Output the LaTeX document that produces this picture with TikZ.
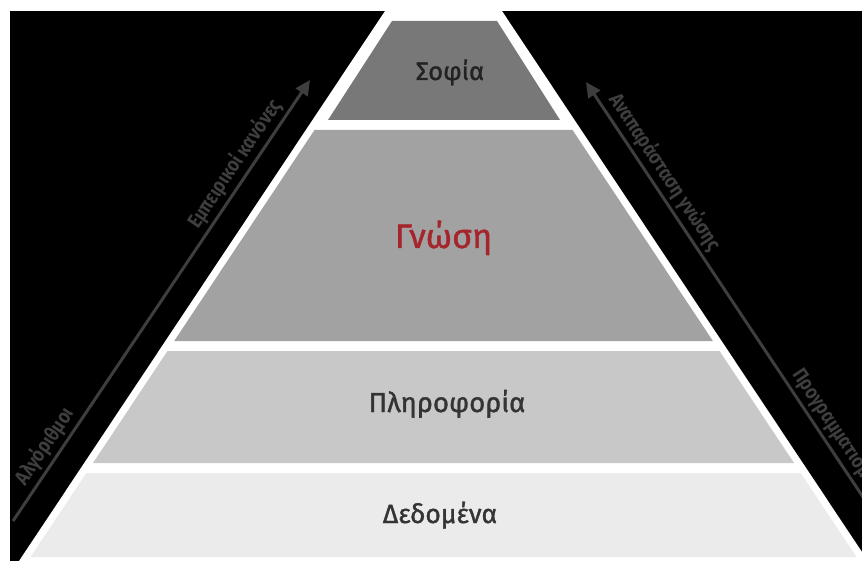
\documentclass[tikz,border=0pt]{standalone}
\usepackage{fontspec}
\setmainfont{Fira Sans}
\newfontfamily\layerfont[FakeBold=1.3]{Fira Sans}
\newfontfamily\condfont[FakeStretch=0.85]{Fira Sans}
\usetikzlibrary{arrows.meta}
\definecolor{sofiafill}{HTML}{787878}
\definecolor{gnosifill}{HTML}{A2A2A2}
\definecolor{plirofill}{HTML}{C8C8C8}
\definecolor{dedofill}{HTML}{EBEBEB}
\definecolor{darktext}{HTML}{222222}
\definecolor{redtext}{HTML}{A4262C}
\definecolor{arrowgray}{HTML}{3E3E3E}
\tikzset{
  layerlabel/.style={anchor=base, inner sep=0pt, text=darktext},
  sidearrow/.style={draw=arrowgray, line width=3pt, -{Triangle[length=15pt,width=14pt]}},
  sidelabel/.style={text=arrowgray, font=\condfont\bfseries\fontsize{20.5}{24}\selectfont, inner sep=3pt}
}
\begin{document}
\begin{tikzpicture}[x=1pt,y=-1pt]
\useasboundingbox (0,0) rectangle (862,561);
\clip (0,0) rectangle (862,561);
\fill[white] (0,0) rectangle (862,561);
\fill[black] (10,11) rectangle (862,561);
% outer white outline of the pyramid
\fill[white] (385,11) -- (502,11) -- (868,561) -- (19,561) -- cycle;
% layers
\fill[sofiafill] (392,21) -- (497,21) -- (560,120) -- (328,120) -- cycle;
\fill[gnosifill] (314.5,130) -- (572.5,130) -- (712.9,341) -- (174.2,341) -- cycle;
\fill[plirofill] (167.5,351) -- (719.5,351) -- (794,463) -- (93,463) -- cycle;
\fill[dedofill] (86.4,473) -- (800.6,473) -- (856.5,557) -- (30.5,557) -- cycle;
% layer labels
\node[layerlabel, font=\layerfont\fontsize{25.5}{30}\selectfont] (sofia) at (450,80) {Σοφία};
\node[layerlabel, text=redtext, font=\layerfont\fontsize{34}{40}\selectfont] (gnosi) at (443.5,248) {Γνώση};
\node[layerlabel, text=darktext!92, font=\layerfont\fontsize{27.5}{32}\selectfont] (pliro) at (447,412) {Πληροφορία};
\node[layerlabel, text=darktext!92, font=\layerfont\fontsize{26.5}{30}\selectfont] (dedo) at (440,523) {Δεδομένα};
% left arrow
\coordinate (la0) at (13,521);
\coordinate (la1) at (310,80);
\draw[sidearrow] (la0) -- node[sidelabel, pos=0.15, sloped, above] (alg) {Αλγόριθμοι}
  node[sidelabel, pos=0.79, sloped, above] (emp) {Εμπειρικοί κανόνες} (la1);
% right arrow
\coordinate (ra0) at (885,530);
\coordinate (ra1) at (586,82);
\draw[sidearrow] (ra0) -- node[sidelabel, pos=0.345, sloped, anchor=south west] (prog) {Προγραμματισμός}
  node[sidelabel, pos=0.78, sloped, above] (anap) {Αναπαράσταση γνώσης} (ra1);
\end{tikzpicture}
\end{document}
